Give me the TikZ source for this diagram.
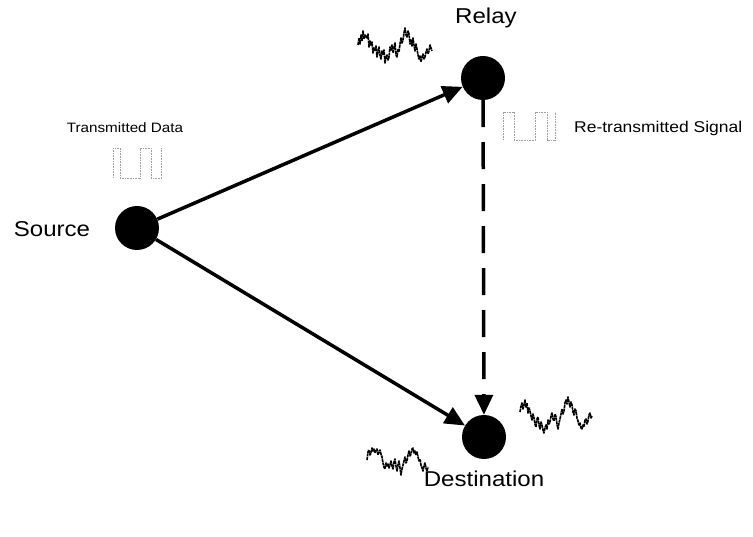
\documentclass[tikz,border=0pt]{standalone}
\usepackage{fontspec}
\setmainfont[FakeStretch=1.12]{Liberation Sans}
\usetikzlibrary{arrows.meta}
\tikzset{
  station/.style={circle, fill=black, minimum size=44pt, inner sep=0pt},
  biglabel/.style={font=\fontsize{21.5}{24}\selectfont, inner sep=0pt},
  smalllabel/.style={font=\fontsize{13.6}{15}\selectfont, inner sep=0pt},
  widelabel/.style={font=\fontsize{15.6}{17}\selectfont, inner sep=0pt},
  link/.style={line width=3.5pt, -{Triangle[length=20pt,width=18pt]}},
  relaylink/.style={link, dash pattern=on 27pt off 15pt},
  pulse/.style={gray!75, line width=0.8pt, dash pattern=on 1pt off 0.6pt},
  noise/.style={black, line width=1.6pt, line join=round, dash pattern=on 3pt off 0.6pt}
}
\begin{document}
\begin{tikzpicture}[x=1pt, y=-1pt]
\useasboundingbox (0,0) rectangle (753,537);

% stations
\node[station] (src) at (137,228) {};
\node[station] (rel) at (483,78) {};
\node[station] (dst) at (484,437) {};

% labels
\node[biglabel] (srclabel) at (52,229) {Source};
\node[biglabel] (rellabel) at (486,18) {Relay};
\node[biglabel] (dstlabel) at (484,479) {Destination};
\node[smalllabel] (txlabel) at (125,128) {Transmitted Data};
\node[widelabel, anchor=west] (rtxlabel) at (574,128) {Re-transmitted Signal};

% links
\draw[link] (src) -- (rel);
\draw[link] (src) -- (dst);
\draw[relaylink] (rel) -- (dst);

% square pulses
\draw[pulse] (113,178) -- (113,148) -- (120,148) -- (120,178) -- (140,178)
  -- (140,148) -- (151,148) -- (151,178) -- (158,178) -- (161,178) -- (161,148);
\draw[pulse] (503,140) -- (503,112) -- (514,112) -- (514,140) -- (535,140)
  -- (535,112) -- (547,112) -- (547,140) -- (555,140) -- (555,112);

% noise near the relay
\draw[noise] (358,45) -- (359,38) -- (360,44) -- (361,35) -- (362,41) -- (363,31)
  -- (364,39) -- (365,35) -- (367,38) -- (368,34) -- (369,47) -- (370,41)
  -- (371,45) -- (372,42) -- (373,53) -- (374,48) -- (375,51) -- (376,46)
  -- (377,57) -- (378,52) -- (379,47) -- (380,55) -- (381,59) -- (382,51)
  -- (383,55) -- (384,50) -- (385,63) -- (386,57) -- (387,55) -- (388,60)
  -- (389,57) -- (390,47) -- (391,50) -- (392,45) -- (393,53) -- (394,47)
  -- (395,43) -- (396,55) -- (397,57) -- (398,49) -- (399,52) -- (400,44)
  -- (401,38) -- (402,43) -- (403,40) -- (404,33) -- (405,28) -- (406,35)
  -- (407,37) -- (408,31) -- (409,34) -- (410,44) -- (411,40) -- (412,46)
  -- (413,38) -- (414,45) -- (415,51) -- (416,44) -- (417,49) -- (418,55)
  -- (419,59) -- (420,56) -- (421,62) -- (422,57) -- (423,54) -- (424,59)
  -- (425,57) -- (426,52) -- (427,49) -- (428,54) -- (429,51) -- (430,45)
  -- (431,48) -- (432,51);

% noise to the right of the destination
\draw[noise] (520,412) -- (521,406) -- (522,403) -- (523,409) -- (524,405)
  -- (525,400) -- (526,407) -- (527,403) -- (528,413) -- (529,408) -- (530,411)
  -- (531,416) -- (532,420) -- (533,414) -- (534,418) -- (535,424) -- (536,427)
  -- (537,419) -- (538,417) -- (539,425) -- (540,429) -- (541,422) -- (542,425)
  -- (543,430) -- (544,433) -- (545,428) -- (546,425) -- (547,429) -- (548,420)
  -- (549,424) -- (550,422) -- (551,416) -- (552,413) -- (553,419) -- (554,421)
  -- (555,414) -- (556,417) -- (557,424) -- (558,429) -- (559,423) -- (560,419)
  -- (561,414) -- (562,409) -- (563,414) -- (564,411) -- (565,403) -- (566,400)
  -- (567,404) -- (568,397) -- (569,402) -- (570,407) -- (571,402) -- (572,405)
  -- (573,412) -- (574,415) -- (575,409) -- (576,411) -- (577,418) -- (578,421)
  -- (579,425) -- (580,423) -- (581,428) -- (582,429) -- (583,425) -- (584,427)
  -- (585,420) -- (586,419) -- (587,424) -- (588,421) -- (589,415) -- (590,413)
  -- (591,418) -- (592,416);

% noise to the left of the destination
\draw[noise] (367,460) -- (368,452) -- (369,450) -- (370,455) -- (371,453)
  -- (372,448) -- (373,451) -- (374,449) -- (375,453) -- (376,450) -- (377,449)
  -- (378,455) -- (379,452) -- (380,450) -- (381,454) -- (382,457) -- (383,463)
  -- (384,467) -- (385,469) -- (386,463) -- (387,466) -- (388,464) -- (389,468)
  -- (390,465) -- (391,461) -- (392,466) -- (393,469) -- (394,462) -- (395,459)
  -- (396,466) -- (397,471) -- (398,465) -- (399,461) -- (400,468) -- (401,475)
  -- (402,469) -- (403,465) -- (404,461) -- (405,457) -- (406,463) -- (407,461)
  -- (408,455) -- (409,451) -- (410,456) -- (411,454) -- (412,449) -- (413,448)
  -- (414,453) -- (415,451) -- (416,455) -- (417,452) -- (418,457) -- (419,461)
  -- (420,459) -- (421,465) -- (422,468) -- (423,471) -- (424,466) -- (425,463)
  -- (426,468) -- (427,471) -- (428,467);
\end{tikzpicture}
\end{document}
